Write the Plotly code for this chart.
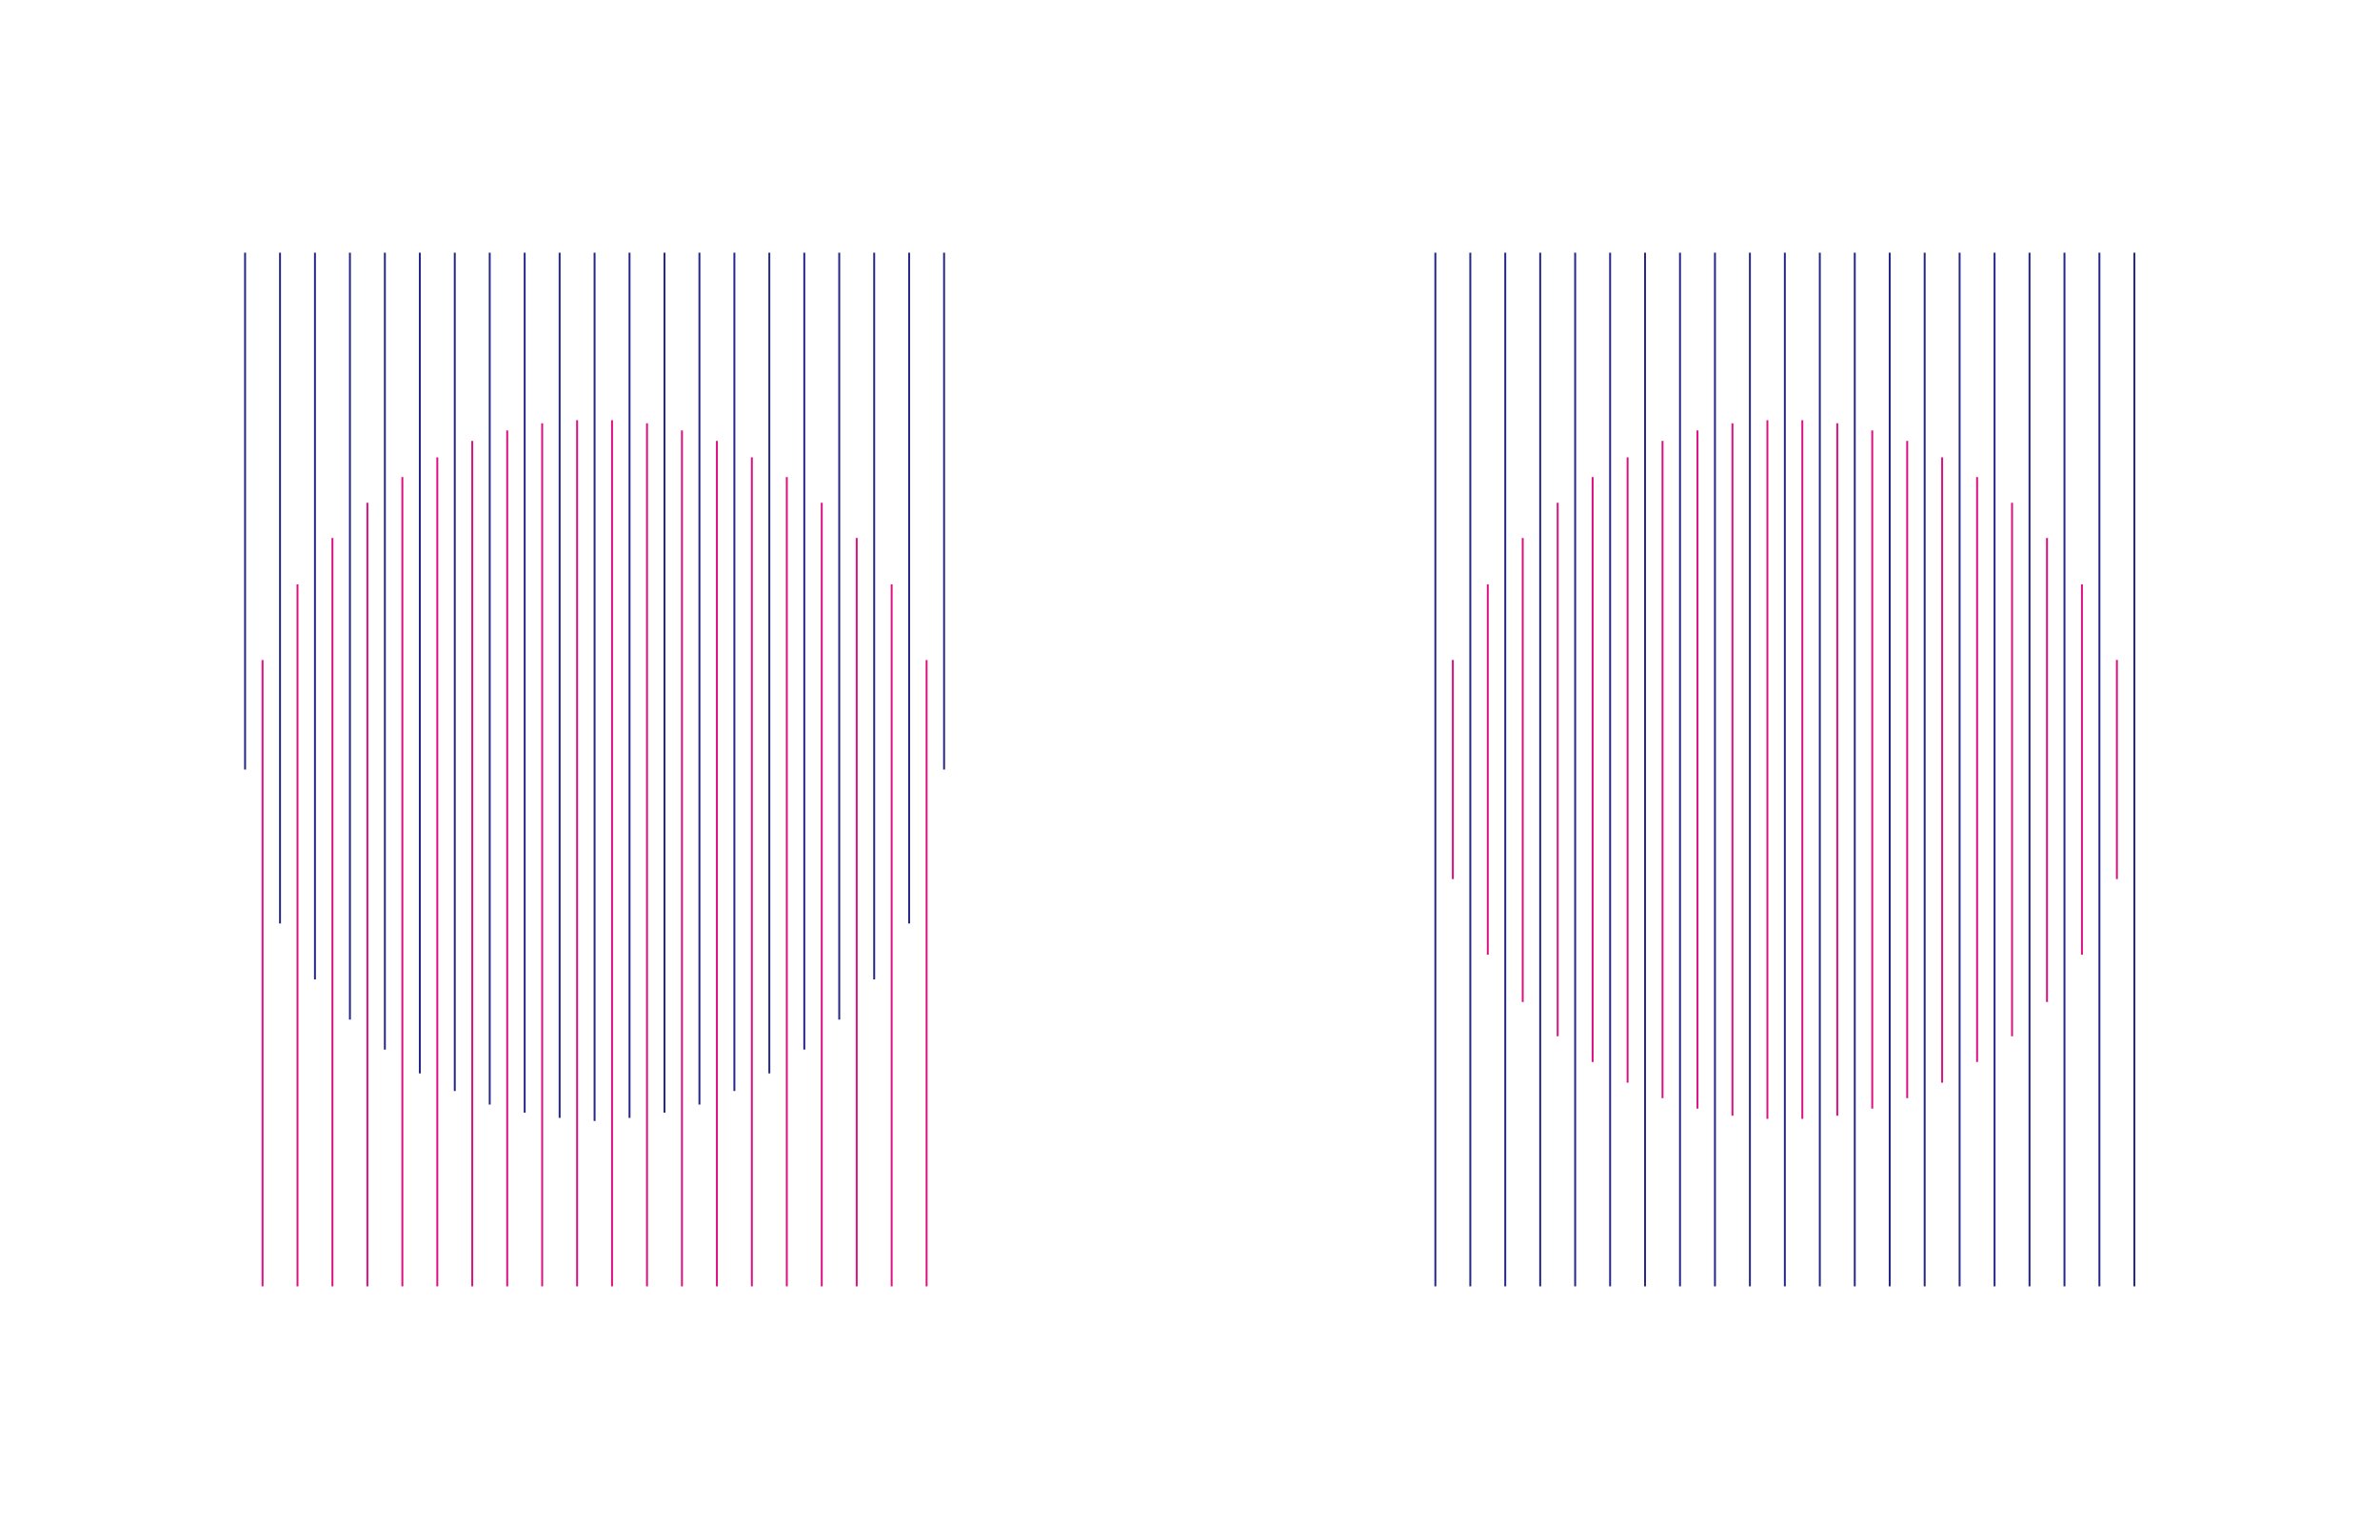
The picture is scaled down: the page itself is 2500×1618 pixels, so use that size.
import plotly.graph_objects as go

# positions of the two families of strokes
blue_x = list(range(21))
pink_x = [i + 0.5 for i in range(20)]

# left panel: blue hangs from the top, pink stands on the bottom
left_blue_low = [0.500, 0.351, 0.297, 0.258, 0.229, 0.206, 0.189, 0.176, 0.168, 0.163, 0.160,
                 0.163, 0.168, 0.176, 0.189, 0.206, 0.229, 0.258, 0.297, 0.351, 0.500]
pink_high = [0.606, 0.679, 0.724, 0.758, 0.783, 0.802, 0.818, 0.828, 0.835, 0.838,
             0.838, 0.835, 0.828, 0.818, 0.802, 0.783, 0.758, 0.724, 0.679, 0.606]

# right panel: blue full height, pink centred
right_pink_low = [0.394, 0.321, 0.275, 0.242, 0.217, 0.197, 0.182, 0.172, 0.165, 0.162,
                  0.162, 0.165, 0.172, 0.182, 0.197, 0.217, 0.242, 0.275, 0.321, 0.394]

blue = "#262688"
pink = "#dc1080"


def segments(xs, lows, highs):
    sx, sy = [], []
    for x, lo, hi in zip(xs, lows, highs):
        sx += [x, x, None]
        sy += [lo, hi, None]
    return sx, sy


fig = go.Figure()

x, y = segments(blue_x, left_blue_low, [1] * 21)
fig.add_trace(go.Scatter(x=x, y=y, mode="lines", line=dict(color=blue, width=2), xaxis="x", yaxis="y"))
x, y = segments(pink_x, [0] * 20, pink_high)
fig.add_trace(go.Scatter(x=x, y=y, mode="lines", line=dict(color=pink, width=2), xaxis="x", yaxis="y"))

x, y = segments(blue_x, [0] * 21, [1] * 21)
fig.add_trace(go.Scatter(x=x, y=y, mode="lines", line=dict(color=blue, width=2), xaxis="x2", yaxis="y2"))
x, y = segments(pink_x, right_pink_low, pink_high)
fig.add_trace(go.Scatter(x=x, y=y, mode="lines", line=dict(color=pink, width=2), xaxis="x2", yaxis="y2"))

fig.update_layout(
    showlegend=False,
    margin=dict(l=0, r=0, t=0, b=0),
    plot_bgcolor="white",
    paper_bgcolor="white",
    xaxis=dict(domain=[0, 0.5], range=[-6.794, 27.036], visible=False),
    xaxis2=dict(domain=[0.5, 1], range=[-7.02, 26.81], visible=False),
    yaxis=dict(domain=[0, 1], range=[-0.238, 1.2371], visible=False),
    yaxis2=dict(domain=[0, 1], range=[-0.238, 1.2371], visible=False, anchor="x2"),
)

fig.write_html("out.html")
